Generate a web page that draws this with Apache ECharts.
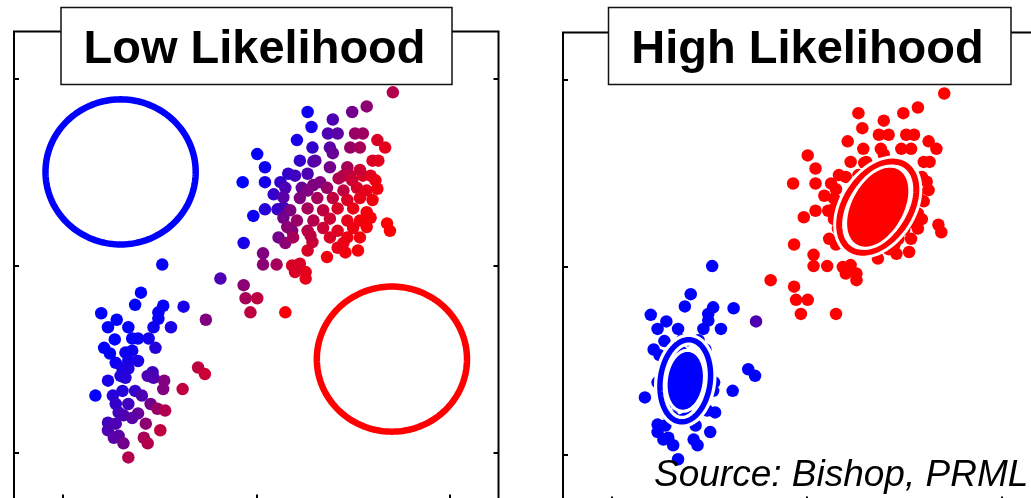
<!DOCTYPE html>
<html><head><meta charset="utf-8">
<script src="https://cdn.jsdelivr.net/npm/echarts@6/dist/echarts.min.js"></script>
<style>html,body{margin:0;padding:0;background:#fff;overflow:hidden}#c{width:1100px;height:530px}</style>
</head><body><div id="c"></div>
<script>
// ---------------- data (standardised Old Faithful) ----------------
const panelTitles = ['Low Likelihood', 'High Likelihood'];
const sourceNote = 'Source: Bishop, PRML';
const tickValues = [-2, 0, 2];

// short-eruption cluster [x, y]
const shortPts = [
[-1.19,-0.29],[-1.25,-0.42],[-0.96,-0.43],[-0.75,-0.44],[-1.60,-0.51],[-1.44,-0.58],[-1.53,-0.66],[-1.32,-0.66],[-1.01,-0.50],[-1.01,-0.57],
[-1.06,-0.66],[-0.88,-0.66],[-0.52,-0.58],[-1.46,-0.79],[-1.57,-0.88],[-1.28,-0.78],[-1.22,-0.78],[-1.11,-0.78],[-1.04,-0.88],[-1.51,-0.94],
[-1.35,-0.93],[-1.28,-0.91],[-1.45,-1.04],[-1.32,-1.02],[-1.22,-1.02],[-1.38,-1.10],[-1.32,-1.10],[-1.07,-1.14],[-0.60,-1.09],[-0.53,-1.16],
[-1.53,-1.23],[-1.40,-1.18],[-1.35,-1.20],[-1.12,-1.18],[-1.06,-1.20],[-0.95,-1.23],[-0.96,-1.32],[-0.76,-1.32],[-1.66,-1.39],[-1.48,-1.39],
[-1.38,-1.34],[-1.25,-1.34],[-1.18,-1.39],[-1.45,-1.48],[-1.32,-1.48],[-1.09,-1.48],[-1.42,-1.57],[-1.37,-1.60],[-1.22,-1.58],[-1.02,-1.53],
[-0.94,-1.55],[-1.53,-1.68],[-1.45,-1.69],[-1.28,-1.63],[-1.14,-1.69],[-0.99,-1.76],[-1.53,-1.76],[-1.47,-1.84],[-1.42,-1.82],[-1.16,-1.84],
[-1.37,-1.90],[-1.12,-1.90],[-1.32,-2.05],[-0.97,0.01]
];
// long-eruption cluster [x, y]
const longPts = [
[-0.37,-0.14],[-0.13,-0.21],[-0.11,-0.35],[0.01,-0.35],[-0.06,-0.50],[0.30,-0.50],[0.07,0.13],[0.07,0.01],[0.21,0.01],[0.37,0.00],
[0.45,0.02],[0.51,-0.07],[0.51,-0.14],[0.40,-0.07],[-0.13,0.24],[-0.03,0.53],[-0.14,0.89],[0.01,1.19],[0.09,1.05],[0.09,0.89],
[0.09,0.60],[0.18,0.76],[0.22,0.60],[0.28,0.62],[0.23,0.30],[0.30,0.24],[0.37,0.37],[0.53,0.16],[0.58,0.25],[0.73,0.09],
[0.84,0.19],[0.92,0.14],[1.05,0.16],[1.35,0.45],[1.38,0.37],[0.53,1.64],[0.57,1.48],[0.42,1.34],[0.58,1.26],[0.45,1.12],
[0.59,1.11],[0.33,0.98],[0.40,0.96],[0.25,0.89],[0.53,0.98],[0.30,0.83],[0.47,0.83],[0.59,0.86],[1.41,1.85],[1.14,1.70],
[0.99,1.64],[0.79,1.56],[0.74,1.41],[0.84,1.41],[1.02,1.41],[1.10,1.41],[0.76,1.26],[0.97,1.26],[1.07,1.26],[1.25,1.34],
[1.33,1.26],[0.79,1.20],[0.61,1.12],[1.20,1.12],[1.26,1.12],[0.76,1.05],[0.94,1.05],[0.66,0.89],[0.90,0.96],[0.97,0.96],
[1.10,0.96],[1.18,0.96],[1.07,1.02],[0.85,0.93],[0.99,0.91],[1.23,0.91],[0.53,0.80],[0.73,0.83],[0.90,0.80],[1.04,0.83],
[1.14,0.80],[0.28,0.73],[0.45,0.72],[0.63,0.72],[0.79,0.72],[0.94,0.70],[1.07,0.72],[1.20,0.70],[0.35,0.59],[0.53,0.61],
[0.69,0.59],[0.84,0.61],[1.00,0.61],[1.14,0.57],[0.28,0.51],[0.42,0.48],[0.59,0.48],[0.76,0.50],[0.94,0.48],[1.07,0.48],
[1.18,0.51],[0.32,0.41],[0.53,0.37],[0.69,0.40],[0.84,0.37],[1.00,0.40],[1.14,0.41],[0.38,0.30],[0.56,0.32],[0.76,0.30],
[0.94,0.30],[1.07,0.30],[0.90,0.24],[1.25,0.82]
];
// responsibility of the "red" component, low-likelihood fit
const respShortLow = [
0,0,0.02,0.1,0,0,0,0,0.03,0.03,
0.05,0.1,0.5,0,0,0.02,0.03,0.08,0.15,0,
0.05,0.05,0.05,0.08,0.1,0.1,0.12,0.25,0.75,0.8,
0.1,0.12,0.15,0.3,0.3,0.5,0.5,0.75,0.02,0.15,
0.15,0.2,0.3,0.2,0.25,0.45,0.25,0.3,0.4,0.6,
0.7,0.25,0.3,0.35,0.55,0.75,0.3,0.35,0.35,0.65,
0.45,0.7,0.7,0.02
];
const respLongLow = [
0.3,0.55,0.65,0.75,0.75,0.97,0.5,0.55,0.65,0.85,
0.85,0.9,0.9,0.85,0.1,0.05,0,0.02,0.05,0.08,
0.15,0.2,0.2,0.25,0.45,0.55,0.5,0.85,0.8,0.95,
0.9,0.95,0.97,1,1,0.05,0.08,0.1,0.2,0.2,
0.3,0.2,0.25,0.2,0.3,0.3,0.4,0.5,0.7,0.55,
0.45,0.3,0.3,0.35,0.6,0.62,0.35,0.6,0.65,0.85,
0.9,0.4,0.35,0.85,0.88,0.45,0.65,0.5,0.7,0.75,
0.85,0.88,0.8,0.7,0.8,0.92,0.5,0.6,0.75,0.85,
0.9,0.35,0.5,0.65,0.75,0.85,0.9,0.95,0.5,0.65,
0.75,0.85,0.92,0.95,0.45,0.6,0.7,0.8,0.9,0.95,
0.97,0.55,0.7,0.8,0.88,0.93,0.97,0.65,0.75,0.85,
0.92,0.95,0.92,0.95
];
// responsibility of the "red" component, high-likelihood fit
const respShortHigh = [
0,0,0,0,0,0,0,0,0,0,
0,0,0.3,0,0,0,0,0,0,0,
0,0,0,0,0,0,0,0,0,0,
0,0,0,0,0,0,0,0,0,0,
0,0,0,0,0,0,0,0,0,0,
0,0,0,0,0,0,0,0,0,0,
0,0,0,0
];
const respLongHigh = longPts.map(() => 1);

// component contours [cx, cy, semiMajor, semiMinor, angleDeg]
const lowBlueContour = [[-1.40, 1.00, 0.775, 0.775, 0]];
const lowRedContour  = [[ 1.40,-1.00, 0.775, 0.775, 0]];
const highBlueContours = [[-1.246,-1.213,0.44,0.256,83],[-1.246,-1.213,0.28,0.15,83]];
const highRedContours  = [[0.728,0.638,0.53,0.334,59],[0.728,0.638,0.42,0.235,63]];

// ---------------- chart ----------------
const BLUE = '#0000ff', RED = '#ff0000';
const lowData = shortPts.map((p,i)=>[p[0],p[1],respShortLow[i]]).concat(longPts.map((p,i)=>[p[0],p[1],respLongLow[i]]));
const highData = shortPts.map((p,i)=>[p[0],p[1],respShortHigh[i]]).concat(longPts.map((p,i)=>[p[0],p[1],respLongHigh[i]]));

function contourSeries(data, color, xi, yi, lw, halo, fillInner){
  return {
    type:'custom', coordinateSystem:'cartesian2d', xAxisIndex:xi, yAxisIndex:yi, data:data, z:5, silent:true, clip:false,
    renderItem:function(params, api){
      const cx=api.value(0), cy=api.value(1), a=api.value(2), b=api.value(3), ang=api.value(4)*Math.PI/180;
      const pts=[];
      for(let i=0;i<=180;i++){
        const t=2*Math.PI*i/180, u=a*Math.cos(t), v=b*Math.sin(t);
        pts.push(api.coord([cx+u*Math.cos(ang)-v*Math.sin(ang), cy+u*Math.sin(ang)+v*Math.cos(ang)]));
      }
      const children=[];
      if(halo) children.push({type:'polygon', shape:{points:pts}, style:{fill:'none', stroke:'#fff', lineWidth:halo}});
      const filled = fillInner && params.dataIndex===1;
      children.push({type:'polygon', shape:{points:pts}, style:{fill: filled?color:'none', stroke:color, lineWidth:lw}});
      return {type:'group', children:children};
    }
  };
}

function axisCommon(){
  return {
    type:'value', min:-2.5, max:2.5,
    axisLine:{show:false, onZero:false}, splitLine:{show:false}, axisLabel:{show:false},
    axisTick:{show:true, inside:true, length:5, lineStyle:{color:'#000', width:2}, customValues:tickValues}
  };
}

const chart = echarts.init(document.getElementById('c'), null, {renderer:'canvas'});
const font = '"Liberation Sans", Arial, Helvetica, sans-serif';
chart.setOption({
  animation:false,
  backgroundColor:'#fff',
  grid:[
    {left:14, top:31.5, width:484.5, height:468, show:true, borderColor:'#000', borderWidth:2, backgroundColor:'transparent'},
    {left:563, top:32.5, width:487.5, height:469, show:true, borderColor:'#000', borderWidth:2, backgroundColor:'transparent'}
  ],
  xAxis:[
    Object.assign(axisCommon(), {gridIndex:0, position:'bottom'}),
    Object.assign(axisCommon(), {gridIndex:1, position:'bottom'})
  ],
  yAxis:[
    Object.assign(axisCommon(), {gridIndex:0, position:'left'}),
    Object.assign(axisCommon(), {gridIndex:0, position:'right'}),
    Object.assign(axisCommon(), {gridIndex:1, position:'left'})
  ],
  visualMap:[{type:'continuous', show:false, dimension:2, min:0, max:1, seriesIndex:[0,1], inRange:{color:[BLUE, RED]}}],
  series:[
    {type:'scatter', xAxisIndex:0, yAxisIndex:0, data:lowData, symbolSize:12.5, itemStyle:{opacity:1}, silent:true},
    {type:'scatter', xAxisIndex:1, yAxisIndex:2, data:highData, symbolSize:12.5, itemStyle:{opacity:1}, silent:true},
    contourSeries(lowBlueContour, BLUE, 0, 0, 6.5, 0, false),
    contourSeries(lowRedContour, RED, 0, 0, 6.5, 0, false),
    contourSeries(highBlueContours, BLUE, 1, 2, 5.5, 12, true),
    contourSeries(highRedContours, RED, 1, 2, 6, 12, true)
  ],
  graphic:[
    {type:'rect', z:100, shape:{x:61, y:7.5, width:391, height:77}, style:{fill:'#fff', stroke:'#111', lineWidth:1.5}},
    {type:'text', z:101, x:254.5, y:50, style:{text:panelTitles[0], font:'bold 47px '+font, fill:'#000', align:'center', verticalAlign:'middle', textAlign:'center', textVerticalAlign:'middle'}},
    {type:'rect', z:100, shape:{x:608.5, y:7.5, width:402.5, height:77}, style:{fill:'#fff', stroke:'#111', lineWidth:1.5}},
    {type:'text', z:101, x:807.5, y:50, style:{text:panelTitles[1], font:'bold 47px '+font, fill:'#000', align:'center', verticalAlign:'middle', textAlign:'center', textVerticalAlign:'middle'}},
    {type:'text', z:101, x:654, y:475.5, style:{text:sourceNote, font:'italic 37px '+font, fill:'#000', align:'left', verticalAlign:'middle', textAlign:'left', textVerticalAlign:'middle'}}
  ]
});
</script></body></html>
